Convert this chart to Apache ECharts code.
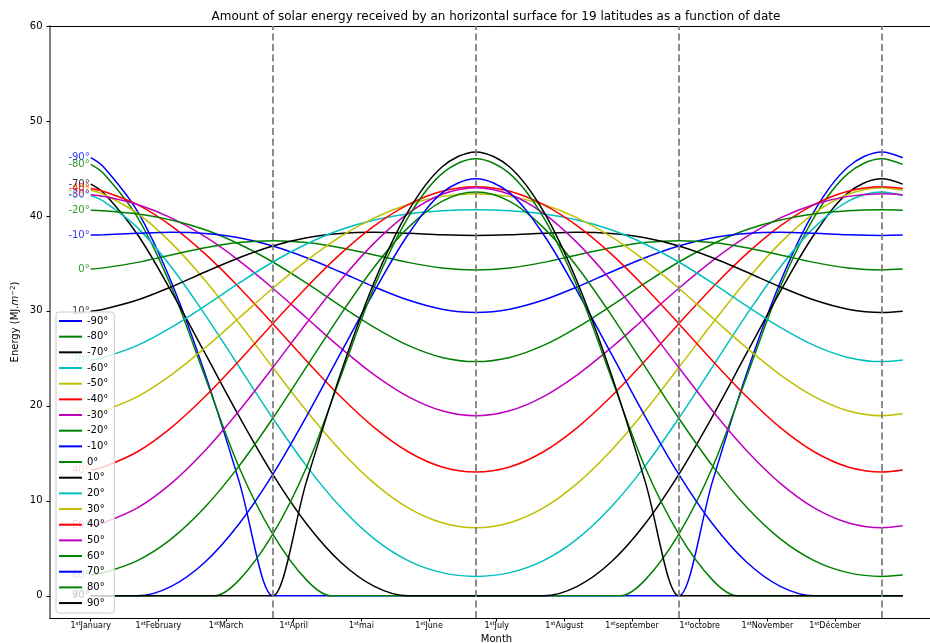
<!DOCTYPE html>
<html><head><meta charset="utf-8">
<script src="https://cdn.jsdelivr.net/npm/echarts@6/dist/echarts.min.js"></script>
<style>html,body{margin:0;padding:0;background:#fff}#c{width:930px;height:643px}</style>
</head><body><div id="c"></div>
<script>
const TITLE = 'Amount of solar energy received by an horizontal surface for 19 latitudes as a function of date';
const MONTHS = ['January','February','March','April','mai','June','July','August','september','octobre','November','Décember'];
const MONTH_DAYS = [0, 30.42, 60.83, 91.25, 121.67, 152.08, 182.5, 212.92, 243.33, 273.75, 304.17, 334.58];
const SEASON_DAYS = [81.85, 173.1, 264.35, 355.6];
const Y_TICKS = [0, 10, 20, 30, 40, 50, 60];
const DAYS = [0, 5.81, 21.02, 36.22, 51.43, 66.64, 81.85, 97.06, 112.27, 127.47, 142.68, 157.89, 173.10,
  188.31, 203.52, 218.72, 233.93, 249.14, 264.35, 279.56, 294.77, 309.98, 325.18, 340.39, 355.60, 365];
const LATITUDES = ['-90°','-80°','-70°','-60°','-50°','-40°','-30°','-20°','-10°','0°','10°','20°','30°','40°','50°','60°','70°','80°','90°'];
const COLORS = ['#0000ff','#008000','#000000','#00bfbf','#bfbf00','#ff0000','#bf00bf','#008000',
  '#0000ff','#008000','#000000','#00bfbf','#bfbf00','#ff0000','#bf00bf','#008000','#0000ff','#008000','#000000'];

const E_S90 = [46.13, 45.15,40.48,33.05,23.37,12.10,0,0,0,0,0,0,0, 0,0,0,0,0,0,12.10,23.37,33.05,40.48,45.15,46.74, 46.13];
const E_S80 = [45.43, 44.46,39.86,32.55,23.02,13.57,6.50,1.65,0,0,0,0,0, 0,0,0,0,1.65,6.50,13.57,23.02,32.55,39.86,44.46,46.03, 45.43];
const E_S70 = [43.35, 42.43,38.04,32.06,25.52,18.93,12.79,7.56,3.56,1.00,0,0,0, 0,0,1.00,3.56,7.56,12.79,18.93,25.52,32.06,38.04,42.43,43.92, 43.35];
const E_S60 = [42.14, 41.54,38.77,34.63,29.59,24.14,18.70,13.66,9.35,6.00,3.71,2.44,2.04, 2.44,3.71,6.00,9.35,13.66,18.70,24.14,29.59,34.63,38.77,41.54,42.52, 42.14];
const E_S50 = [42.71, 42.28,40.27,37.16,33.21,28.73,24.04,19.46,15.30,11.84,9.26,7.70,7.17, 7.70,9.26,11.84,15.30,19.46,24.04,28.73,33.21,37.16,40.27,42.28,42.98, 42.71];
const E_S40 = [42.89, 42.59,41.19,38.95,36.00,32.50,28.65,24.72,20.98,17.71,15.17,13.57,13.03, 13.57,15.17,17.71,20.98,24.72,28.65,32.50,36.00,38.95,41.19,42.59,43.07, 42.89];
const E_S30 = [42.23, 42.06,41.21,39.79,37.81,35.30,32.39,29.25,26.12,23.27,20.98,19.49,18.97, 19.49,20.98,23.27,26.12,29.25,32.39,35.30,37.81,39.79,41.21,42.06,42.34, 42.23];
const E_S20 = [40.60, 40.54,40.21,39.57,38.54,37.05,35.15,32.92,30.54,28.27,26.37,25.10,24.66, 25.10,26.37,28.27,30.54,32.92,35.15,37.05,38.54,39.57,40.21,40.54,40.64, 40.60];
const E_S10 = [37.98, 38.02,38.17,38.27,38.15,37.70,36.84,35.60,34.09,32.53,31.14,30.18,29.84, 30.18,31.14,32.53,34.09,35.60,36.84,37.70,38.15,38.27,38.17,38.02,37.95, 37.98];
const E_EQ  = [34.40, 34.53,35.11,35.89,36.66,37.20,37.40,37.20,36.66,35.89,35.11,34.53,34.32, 34.53,35.11,35.89,36.66,37.20,37.40,37.20,36.66,35.89,35.11,34.53,34.32, 34.40];
const E_N10 = [29.97, 30.18,31.14,32.53,34.09,35.60,36.84,37.70,38.15,38.27,38.17,38.02,37.95, 38.02,38.17,38.27,38.15,37.70,36.84,35.60,34.09,32.53,31.14,30.18,29.84, 29.97];
const E_N20 = [24.83, 25.10,26.37,28.27,30.54,32.92,35.15,37.05,38.54,39.57,40.21,40.54,40.64, 40.54,40.21,39.57,38.54,37.05,35.15,32.92,30.54,28.27,26.37,25.10,24.66, 24.83];
const E_N30 = [19.17, 19.49,20.98,23.27,26.12,29.25,32.39,35.30,37.81,39.79,41.21,42.06,42.34, 42.06,41.21,39.79,37.81,35.30,32.39,29.25,26.12,23.27,20.98,19.49,18.97, 19.17];
const E_N40 = [13.24, 13.57,15.17,17.71,20.98,24.72,28.65,32.50,36.00,38.95,41.19,42.59,43.07, 42.59,41.19,38.95,36.00,32.50,28.65,24.72,20.98,17.71,15.17,13.57,13.03, 13.24];
const E_N50 = [7.37, 7.70,9.26,11.84,15.30,19.46,24.04,28.73,33.21,37.16,40.27,42.28,42.98, 42.28,40.27,37.16,33.21,28.73,24.04,19.46,15.30,11.84,9.26,7.70,7.17, 7.37];
const E_N60 = [2.19, 2.44,3.71,6.00,9.35,13.66,18.70,24.14,29.59,34.63,38.77,41.54,42.52, 41.54,38.77,34.63,29.59,24.14,18.70,13.66,9.35,6.00,3.71,2.44,2.04, 2.19];
const E_N70 = [0, 0,0,1.00,3.56,7.56,12.79,18.93,25.52,32.06,38.04,42.43,43.92, 42.43,38.04,32.06,25.52,18.93,12.79,7.56,3.56,1.00,0,0,0, 0];
const E_N80 = [0, 0,0,0,0,1.65,6.50,13.57,23.02,32.55,39.86,44.46,46.03, 44.46,39.86,32.55,23.02,13.57,6.50,1.65,0,0,0,0,0, 0];
const E_N90 = [0, 0,0,0,0,0,0,12.10,23.37,33.05,40.48,45.15,46.74, 45.15,40.48,33.05,23.37,12.10,0,0,0,0,0,0,0, 0];

// extra zero points where polar night begins / ends (sharp corners)
const POLAR_EXTRA = {
  '-90°': [[82.86, 0], [263.33, 0]],
  '-80°': [[108.21, 0], [237.99, 0]],
  '80°': [[55.49, 0], [290.71, 0]],
  '90°': [[80.84, 0], [265.36, 0]]
};

const VALUES = [E_S90,E_S80,E_S70,E_S60,E_S50,E_S40,E_S30,E_S20,E_S10,E_EQ,E_N10,E_N20,E_N30,E_N40,E_N50,E_N60,E_N70,E_N80,E_N90];

const FONT = 'DejaVu Sans';
const chart = echarts.init(document.getElementById('c'), null, {renderer: 'canvas'});

const series = LATITUDES.map((name, i) => {
  let pts = DAYS.map((d, j) => [d, VALUES[i][j]]);
  if (POLAR_EXTRA[name]) pts = pts.concat(POLAR_EXTRA[name]).sort((a, b) => a[0] - b[0]);
  return {
    name, type: 'line', data: pts, smooth: 0.33, showSymbol: false, symbol: 'none',
    lineStyle: {width: 1.5, color: COLORS[i]}, itemStyle: {color: COLORS[i]},
    silent: true, z: 2
  };
});
series.push({
  type: 'line', name: 'seasons', data: [], z: 3, silent: true,
  markLine: {
    silent: true, symbol: ['none', 'none'], label: {show: false},
    lineStyle: {type: [7, 3.5], color: '#808080', width: 1.8},
    emphasis: {disabled: true},
    data: SEASON_DAYS.map(d => ({xAxis: d}))
  }
});
series.push({
  type: 'scatter', name: 'startLabels', symbolSize: 0, silent: true, z: 2,
  label: {show: true, position: 'left', distance: 1, fontSize: 10, fontFamily: FONT},
  data: LATITUDES.map((n, i) => ({value: [DAYS[0], VALUES[i][0]], label: {formatter: n, color: COLORS[i]}}))
});

const option = {
  animation: false,
  backgroundColor: '#ffffff',
  title: {
    text: TITLE, left: 496, top: 10, padding: 0, textAlign: 'center',
    textStyle: {fontFamily: FONT, fontSize: 12, fontWeight: 'normal', color: '#000', lineHeight: 14}
  },
  grid: {left: 50, right: -13, top: 26, bottom: 25, outerBoundsMode: 'none', containLabel: false},
  legend: {
    data: LATITUDES, orient: 'vertical', left: 56, top: 312,
    icon: 'rect', itemWidth: 23, itemHeight: 2, itemGap: 3.67,
    padding: [3, 6, 4, 3], selectedMode: false,
    backgroundColor: 'rgba(255,255,255,0.8)', borderColor: '#cccccc', borderWidth: 1, borderRadius: 3,
    textStyle: {fontFamily: FONT, fontSize: 10, color: '#000', lineHeight: 12}
  },
  xAxis: [{
    type: 'value', min: -18.3, max: 383.1,
    name: 'Month', nameLocation: 'middle', nameGap: 15, nameMoveOverlap: false,
    nameTextStyle: {fontFamily: FONT, fontSize: 10, color: '#000', lineHeight: 12, verticalAlign: 'top'},
    axisLine: {show: true, onZero: false, lineStyle: {color: '#000', width: 1}},
    axisTick: {show: true, length: 3.5, customValues: MONTH_DAYS, lineStyle: {color: '#000'}},
    axisLabel: {
      show: true, customValues: MONTH_DAYS, margin: 3,
      fontFamily: FONT, fontSize: 8, color: '#000', lineHeight: 10,
      formatter: v => '1{sup|st}' + MONTHS[Math.round(v / (365 / 12))],
      rich: {sup: {fontFamily: FONT, fontSize: 5.5, lineHeight: 6, verticalAlign: 'top', color: '#000'}}
    },
    splitLine: {show: false}
  }, {
    type: 'value', position: 'top', min: -18.3, max: 383.1,
    axisLine: {show: true, onZero: false, lineStyle: {color: '#000', width: 1}},
    axisTick: {show: false}, axisLabel: {show: false}, splitLine: {show: false}
  }],
  yAxis: {
    type: 'value', min: -2.337, max: 60,
    name: 'Energy (MJ.{it|m}{sup|−2})', nameLocation: 'middle', nameRotate: 90, nameGap: 30, nameMoveOverlap: false,
    nameTextStyle: {
      fontFamily: FONT, fontSize: 10, color: '#000',
      rich: {it: {fontFamily: FONT, fontSize: 10, fontStyle: 'italic', color: '#000'},
             sup: {fontFamily: FONT, fontSize: 7, verticalAlign: 'top', lineHeight: 8, color: '#000'}}
    },
    axisLine: {show: true, onZero: false, lineStyle: {color: '#808080', width: 2}},
    axisTick: {show: true, length: 3.5, customValues: Y_TICKS, lineStyle: {color: '#000'}},
    axisLabel: {show: true, customValues: Y_TICKS, margin: 7.5, fontFamily: FONT, fontSize: 10, color: '#000'},
    splitLine: {show: false}
  },
  series
};
chart.setOption(option);
</script></body></html>
